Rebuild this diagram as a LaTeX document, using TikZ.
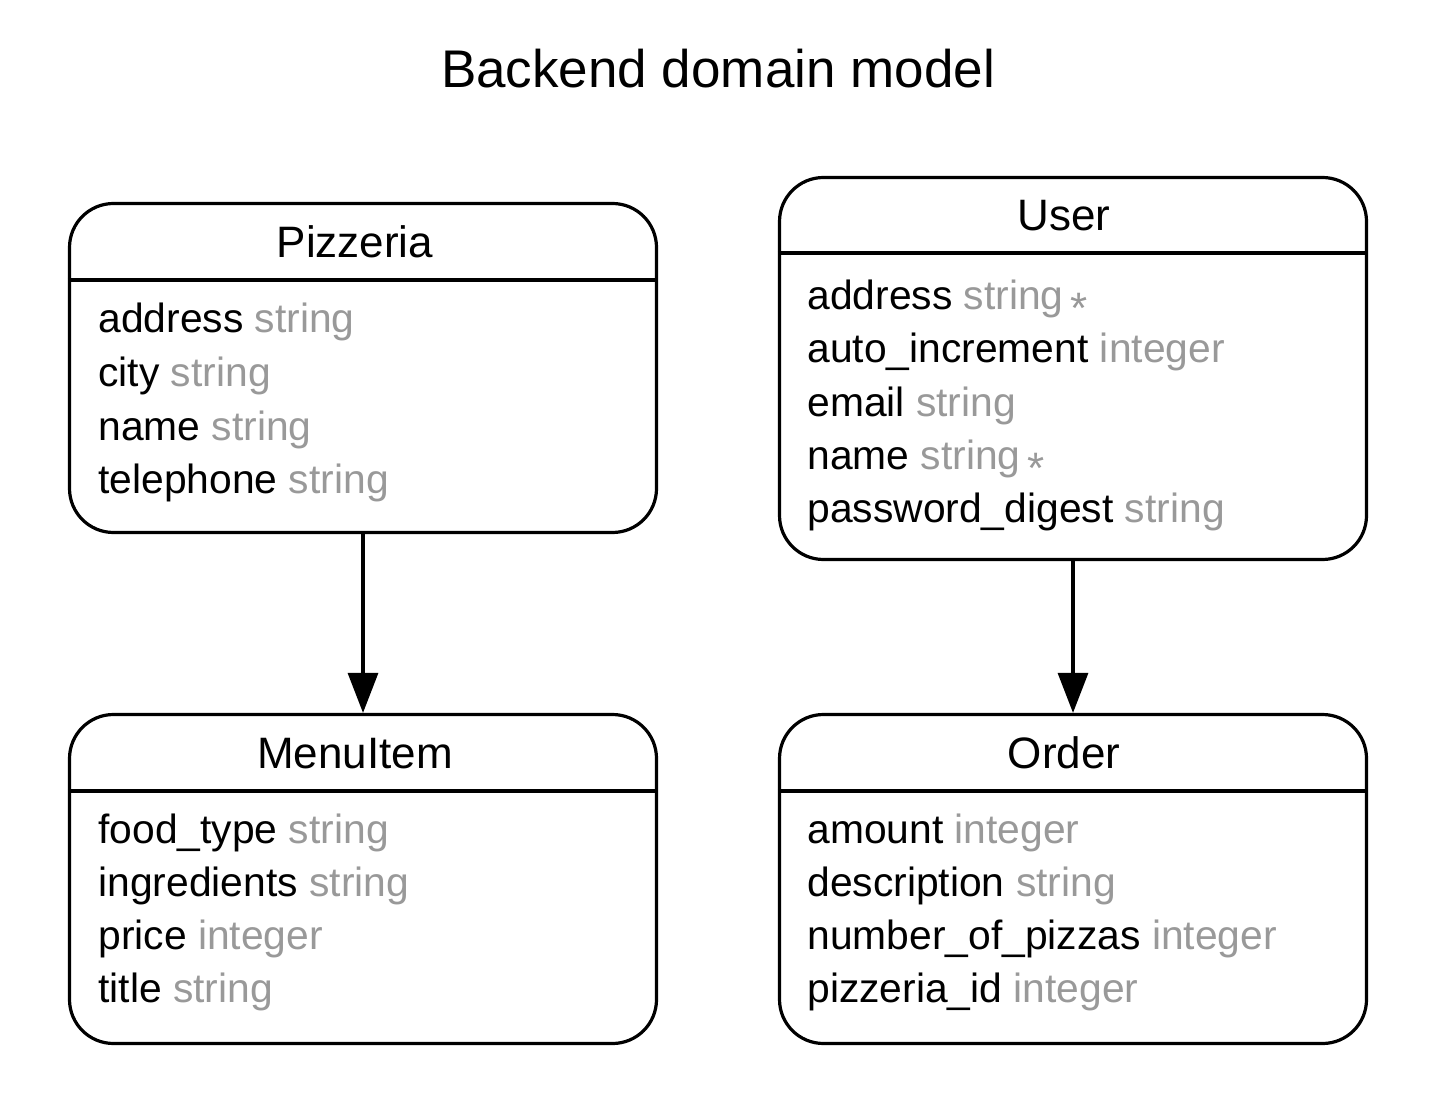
\documentclass[tikz,border=0pt]{standalone}
\usepackage{fontspec}
\setmainfont{Liberation Sans}
\usetikzlibrary{arrows.meta}
\definecolor{typegray}{HTML}{999999}
\newcommand\ty[1]{\textcolor{typegray}{#1}}
\newcommand\req{\hspace{3.5pt}\textcolor{typegray}{\raisebox{-7pt}[0pt][0pt]{\fontsize{22}{22}\selectfont *}}}
\tikzset{
  entbox/.style={draw, line width=1.6pt, rounded corners=22pt, minimum width=293.5pt, inner sep=0pt},
  hdr/.style={font=\fontsize{22}{26}\selectfont, anchor=base, inner sep=0pt},
  row/.style={font=\fontsize{20.4}{24}\selectfont, anchor=base west, inner sep=0pt},
  sepline/.style={line width=1.6pt},
  rel/.style={line width=1.6pt, -{Triangle[length=20pt,width=15pt]}},
}
\begin{document}
\begin{tikzpicture}[x=0.5pt,y=-0.5pt]
\useasboundingbox (0,0) rectangle (1454,1106);
\node[font=\fontsize{26.5}{30}\selectfont, anchor=base, inner sep=0pt] (title) at (718,88) {Backend domain model};

% Pizzeria
\node[entbox, minimum height=164.5pt] (pizzeria) at (363,368) {};
\draw[sepline] (pizzeria.west |- 0,280) -- (pizzeria.east |- 0,280);
\node[hdr] (pizzeriaH) at (355,258) {Pizzeria};
\node[row] (p1) at (98,333) {address \ty{string}};
\node[row] (p2) at (98,387) {city \ty{string}};
\node[row] (p3) at (98,440) {name \ty{string}};
\node[row] (p4) at (98,493) {telephone \ty{string}};

% User
\node[entbox, minimum height=191pt] (user) at (1073,368.5) {};
\draw[sepline] (user.west |- 0,253) -- (user.east |- 0,253);
\node[hdr] (userH) at (1064,231) {User};
\node[row] (u1) at (807,310) {address \ty{string}\req};
\node[row] (u2) at (807,363) {auto\_increment \ty{integer}};
\node[row] (u3) at (807,416) {email \ty{string}};
\node[row] (u4) at (807,469) {name \ty{string}\req};
\node[row] (u5) at (807,522) {password\_digest \ty{string}};

% MenuItem
\node[entbox, minimum height=164.5pt] (menuitem) at (363,879) {};
\draw[sepline] (menuitem.west |- 0,791) -- (menuitem.east |- 0,791);
\node[hdr] (menuitemH) at (355,768) {MenuItem};
\node[row] (m1) at (98,843) {food\_type \ty{string}};
\node[row] (m2) at (98,896) {ingredients \ty{string}};
\node[row] (m3) at (98,949) {price \ty{integer}};
\node[row] (m4) at (98,1002) {title \ty{string}};

% Order
\node[entbox, minimum height=164.5pt] (order) at (1073,879) {};
\draw[sepline] (order.west |- 0,791) -- (order.east |- 0,791);
\node[hdr] (orderH) at (1064,768) {Order};
\node[row] (o1) at (807,843) {amount \ty{integer}};
\node[row] (o2) at (807,896) {description \ty{string}};
\node[row] (o3) at (807,949) {number\_of\_pizzas \ty{integer}};
\node[row] (o4) at (807,1002) {pizzeria\_id \ty{integer}};

% relations
\draw[rel] (pizzeria.south) -- (menuitem.north);
\draw[rel] (user.south) -- (order.north);
\end{tikzpicture}
\end{document}
